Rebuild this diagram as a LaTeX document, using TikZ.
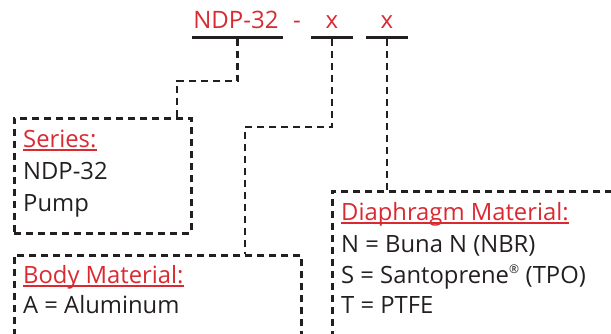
\documentclass[tikz,border=0pt]{standalone}
\usepackage{fontspec}
\setmainfont{Open Sans}
\definecolor{codered}{HTML}{D92A32}
\definecolor{ink}{HTML}{231F20}
\tikzset{
    txt/.style={anchor=base west,inner sep=0pt,text=ink,font=\fontsize{23.8}{30}\selectfont},
    head/.style={txt,text=codered},
    code/.style={anchor=base,inner sep=0pt,text=codered,font=\fontsize{24}{30}\selectfont},
    bar/.style={fill=ink,inner sep=0pt,minimum height=2.5pt},
    link/.style={draw=ink,line width=2.5pt,dash pattern=on 7pt off 5pt},
    uline/.style={draw=codered,line width=1.3pt}
}
\begin{document}
\begin{tikzpicture}[x=1pt,y=-1pt]
        \clip (0,0) rectangle (611,333);
        % part number
        \node[code] (c1) at (236,28) {NDP-32};
        \node[code] (c2) at (297,28) {-};
        \node[code] (c3) at (332,28) {x};
        \node[code] (c4) at (387,28) {x};
        \node[bar,minimum width=91pt] (b1) at (237.5,37.5) {};
        \node[bar,minimum width=42pt] (b2) at (332,37.5) {};
        \node[bar,minimum width=42pt] (b3) at (387,37.5) {};
        % boxes
        \node[link,anchor=north west,minimum width=177pt,minimum height=115pt,inner sep=0pt] (sbox) at (13,117) {};
        \node[link,anchor=north west,minimum width=287pt,minimum height=120pt,inner sep=0pt] (bbox) at (13,254) {};
        \node[link,anchor=north west,minimum width=320pt,minimum height=180pt,inner sep=0pt] (dbox) at (331,190) {};
        % leaders
        \coordinate (k1) at (177,81);
        \coordinate (k2) at (245,127);
        \draw[link] (b1.south) |- (k1) -- (k1 |- sbox.north);
        \draw[link] (b2.south) |- (k2) -- (k2 |- bbox.north);
        \draw[link] (b3.south) -- (b3.south |- dbox.north);
        % series
        \node[head] (sh) at (23,147) {Series:};
        \node[txt] (s1) at (23,179) {NDP-32};
        \node[txt] (s2) at (23,211) {Pump};
        \draw[uline] ([yshift=-3pt]sh.base west) -- ([yshift=-3pt]sh.base east);
        % body
        \node[head] (bh) at (23,283) {Body Material:};
        \node[txt] (bm1) at (23,313) {A = Aluminum};
        \draw[uline] ([yshift=-3pt]bh.base west) -- ([yshift=-3pt]bh.base east);
        % diaphragm
        \node[head] (dh) at (341,220) {Diaphragm Material:};
        \node[txt] (d1) at (341,252) {N = Buna N (NBR)};
        \node[txt] (d2) at (341,283) {S = Santoprene\textsuperscript{\fontsize{12}{12}\selectfont®} (TPO)};
        \node[txt] (d3) at (341,313) {T = PTFE};
        \draw[uline] ([yshift=-3pt]dh.base west) -- ([yshift=-3pt]dh.base east);
    \end{tikzpicture}
\end{document}
